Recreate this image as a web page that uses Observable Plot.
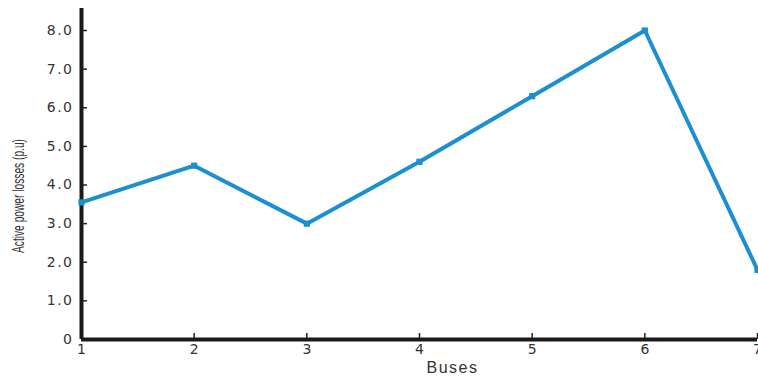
<!DOCTYPE html>
<html>
<head>
<meta charset="utf-8">
<script src="https://cdn.jsdelivr.net/npm/d3@7"></script>
<script src="https://cdn.jsdelivr.net/npm/@observablehq/plot@0.6"></script>
<style>
  html, body { margin: 0; padding: 0; background: #fff; }
  #chart svg { display: block; }
</style>
</head>
<body>
<div id="chart"></div>
<script>
const buses = [1, 2, 3, 4, 5, 6, 7];
const losses = [3.55, 4.5, 3.0, 4.6, 6.3, 8.0, 1.8];
const yTicks = [0, 1, 2, 3, 4, 5, 6, 7, 8];
const yLabel = "Active power losses (p.u)";
const xLabel = "Buses";

const data = buses.map((b, i) => ({bus: b, loss: losses[i]}));
const lineColor = "#1b8fcf";

const chart = Plot.plot({
  width: 758,
  height: 376,
  marginLeft: 81,
  marginRight: 1,
  marginTop: 8,
  marginBottom: 37,
  style: {fontFamily: "'DejaVu Sans', sans-serif", fontSize: "14px", color: "#333", background: "#fff"},
  x: {domain: [1, 7]},
  y: {domain: [0, 8.57]},
  marks: [
    Plot.axisY({ticks: yTicks, tickSize: -6, tickFormat: d => d === 0 ? "0" : d.toFixed(1), label: null, tickPadding: 14, stroke: "#222", strokeWidth: 1.5, fontSize: 14, fill: "#333", className: "yax"}),
    Plot.axisX({ticks: buses, tickSize: -6, tickFormat: d => String(d), label: null, tickPadding: 11, stroke: "#222", strokeWidth: 1.5, fontSize: 14, fill: "#333"}),
    Plot.ruleX([1], {stroke: "#1a1a1a", strokeWidth: 4}),
    Plot.ruleY([0], {stroke: "#1a1a1a", strokeWidth: 4}),
    Plot.line(data, {x: "bus", y: "loss", stroke: lineColor, strokeWidth: 4, strokeLinejoin: "miter"}),
    Plot.dot(data, {x: "bus", y: "loss", symbol: "square", r: 3.5, fill: lineColor, stroke: "none"}),
    Plot.text([yLabel], {frameAnchor: "left", textAnchor: "middle", lineAnchor: "middle", rotate: -90, dx: -63, dy: 22, fontSize: 17, fill: "#333", fontFamily: "'Liberation Sans', sans-serif", className: "ylab"}),
    Plot.text([xLabel], {frameAnchor: "bottom", textAnchor: "middle", lineAnchor: "middle", dx: 33, dy: 28, fontSize: 16, fill: "#333", fontFamily: "'Liberation Sans', sans-serif", className: "xlab"})
  ]
});
d3.select(chart).selectAll(".ylab text").attr("textLength", 114).attr("lengthAdjust", "spacingAndGlyphs");
d3.select(chart).selectAll(".xlab text").style("letter-spacing", "1.5px");
d3.select(chart).selectAll(".yax text").style("letter-spacing", "1.5px");
document.getElementById("chart").appendChild(chart);
</script>
</body>
</html>
